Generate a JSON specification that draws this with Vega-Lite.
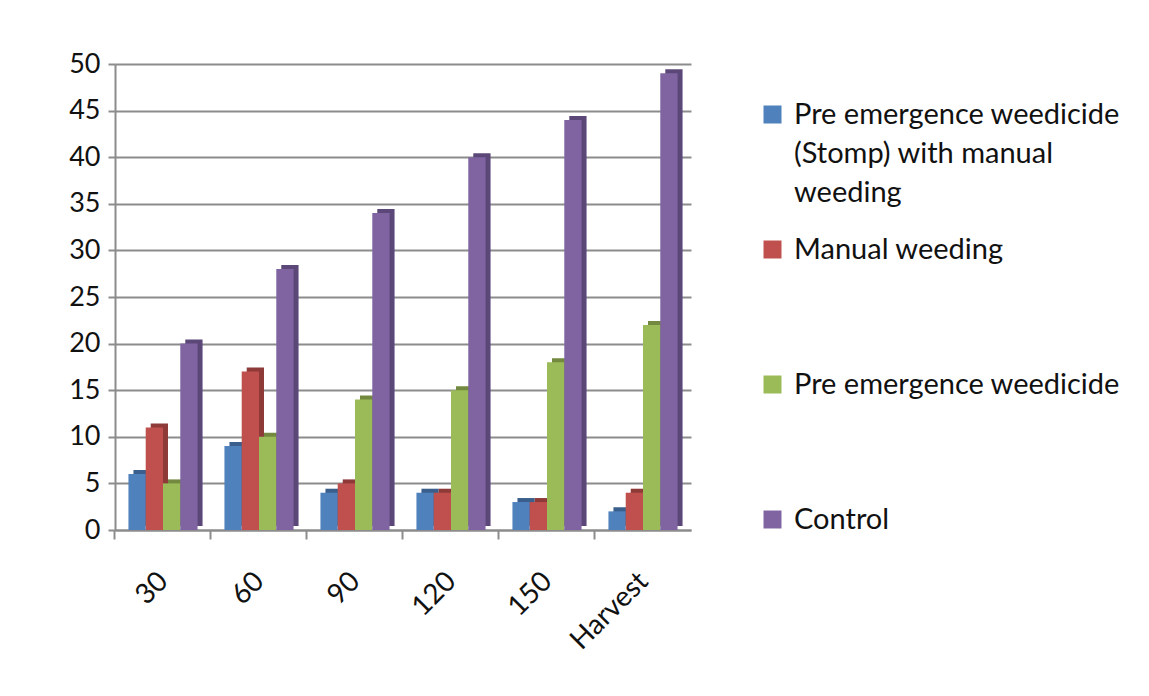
{
  "$schema": "https://vega.github.io/schema/vega-lite/v6.json",
  "width": 576,
  "height": 466,
  "autosize": {"type": "none"},
  "padding": {"left": 115, "top": 64, "right": 458, "bottom": 166},
  "background": "white",
  "config": {"view": {"stroke": null}, "font": "Lato", "style": {"guide-label": {"lineHeight": 39}}},
  "data": {
    "values": [
      {"day": "30", "series": "Pre emergence weedicide (Stomp) with manual weeding", "value": 6},
      {"day": "30", "series": "Manual weeding", "value": 11},
      {"day": "30", "series": "Pre emergence weedicide", "value": 5},
      {"day": "30", "series": "Control", "value": 20},
      {"day": "60", "series": "Pre emergence weedicide (Stomp) with manual weeding", "value": 9},
      {"day": "60", "series": "Manual weeding", "value": 17},
      {"day": "60", "series": "Pre emergence weedicide", "value": 10},
      {"day": "60", "series": "Control", "value": 28},
      {"day": "90", "series": "Pre emergence weedicide (Stomp) with manual weeding", "value": 4},
      {"day": "90", "series": "Manual weeding", "value": 5},
      {"day": "90", "series": "Pre emergence weedicide", "value": 14},
      {"day": "90", "series": "Control", "value": 34},
      {"day": "120", "series": "Pre emergence weedicide (Stomp) with manual weeding", "value": 4},
      {"day": "120", "series": "Manual weeding", "value": 4},
      {"day": "120", "series": "Pre emergence weedicide", "value": 15},
      {"day": "120", "series": "Control", "value": 40},
      {"day": "150", "series": "Pre emergence weedicide (Stomp) with manual weeding", "value": 3},
      {"day": "150", "series": "Manual weeding", "value": 3},
      {"day": "150", "series": "Pre emergence weedicide", "value": 18},
      {"day": "150", "series": "Control", "value": 44},
      {"day": "Harvest", "series": "Pre emergence weedicide (Stomp) with manual weeding", "value": 2},
      {"day": "Harvest", "series": "Manual weeding", "value": 4},
      {"day": "Harvest", "series": "Pre emergence weedicide", "value": 22},
      {"day": "Harvest", "series": "Control", "value": 49}
    ]
  },
  "encoding": {
    "y": {
      "field": "value", "type": "quantitative",
      "scale": {"domain": [0, 50], "nice": false},
      "axis": {
        "values": [0, 5, 10, 15, 20, 25, 30, 35, 40, 45, 50],
        "title": null, "grid": true, "gridColor": "#8c8c8c", "gridWidth": 2,
        "domainColor": "#8c8c8c", "domainWidth": 2, "tickColor": "#8c8c8c", "tickWidth": 2, "tickSize": 7,
        "labelFontSize": 27, "labelColor": "#111111", "labelPadding": 8
      }
    }
  },
  "layer": [
    {
      "mark": {"type": "bar", "yOffset": -4},
      "encoding": {
        "x": {
          "field": "day", "type": "nominal", "sort": ["30", "60", "90", "120", "150", "Harvest"],
          "scale": {"paddingInner": 0.28, "paddingOuter": 0.14},
          "axis": {"orient": "bottom", "title": null, "labels": false, "bandPosition": -0.1945, "tickSize": 9, "tickColor": "#8c8c8c", "tickWidth": 2, "domainColor": "#8c8c8c", "domainWidth": 2}
        },
        "xOffset": {
          "field": "series", "type": "nominal",
          "sort": ["Pre emergence weedicide (Stomp) with manual weeding", "Manual weeding", "Pre emergence weedicide", "Control"],
          "scale": {"range": [5, 74.12], "paddingInner": 0, "paddingOuter": 0}
        },
        "color": {
          "field": "series", "type": "nominal",
          "scale": {"domain": ["Pre emergence weedicide (Stomp) with manual weeding", "Manual weeding", "Pre emergence weedicide", "Control"], "range": ["#3a5f8c", "#8e3a38", "#73893f", "#5c4878"]},
          "legend": null
        }
      }
    },
    {
      "mark": {"type": "bar"},
      "encoding": {
        "x": {
          "field": "day", "type": "nominal", "sort": ["30", "60", "90", "120", "150", "Harvest"],
          "axis": {"orient": "bottom", "title": null, "ticks": false, "domain": false, "labelAngle": -45, "labelFontSize": 28, "labelColor": "#111111", "labelPadding": 37, "labelOffset": -9}
        },
        "xOffset": {
          "field": "series", "type": "nominal",
          "sort": ["Pre emergence weedicide (Stomp) with manual weeding", "Manual weeding", "Pre emergence weedicide", "Control"],
          "scale": {"paddingInner": 0, "paddingOuter": 0}
        },
        "color": {
          "field": "series", "type": "nominal",
          "scale": {"domain": ["Pre emergence weedicide (Stomp) with manual weeding", "Manual weeding", "Pre emergence weedicide", "Control"], "range": ["#4f81bd", "#c0504d", "#9bbb59", "#8064a2"]},
          "legend": {
            "title": null, "orient": "none", "legendX": 643, "legendY": 36,
            "symbolType": "square", "symbolSize": 324, "symbolStrokeWidth": 0,
            "labelFontSize": 29, "labelColor": "#111111", "labelLimit": 500, "labelOffset": 7,
            "rowPadding": 27,
            "labelExpr": "datum.label == 'Pre emergence weedicide (Stomp) with manual weeding' ? ['Pre emergence weedicide', '(Stomp) with manual', 'weeding'] : [datum.label, '', '']"
          }
        }
      }
    }
  ],
  "resolve": {"scale": {"color": "independent", "xOffset": "independent"}, "axis": {"x": "independent"}}
}
